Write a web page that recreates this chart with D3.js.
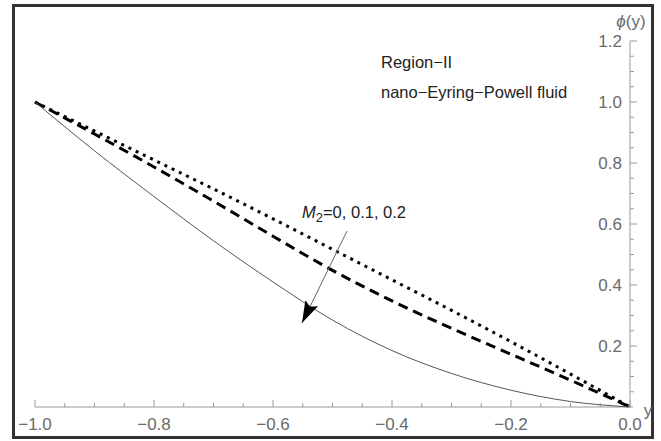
<!DOCTYPE html>
<html>
<head>
<meta charset="utf-8">
<script src="https://cdn.jsdelivr.net/npm/d3@7"></script>
<style>
  body { margin: 0; background: #fff; }
  svg { display: block; font-family: "Liberation Sans", Arial, sans-serif; }
</style>
</head>
<body>
<svg id="chart" width="661" height="441"></svg>
<script>
// y values along the channel
const yValues = [-1.0, -0.9, -0.8, -0.7, -0.6, -0.5, -0.4, -0.3, -0.2, -0.1, 0.0];
// phi(y) for M2 = 0, 0.1, 0.2
const phiM0  = [1.0, 0.905, 0.81, 0.715, 0.617, 0.517, 0.417, 0.317, 0.214, 0.108, 0.0];
const phiM01 = [1.0, 0.895, 0.787, 0.675, 0.56, 0.448, 0.348, 0.258, 0.173, 0.088, 0.0];
const phiM02 = [1.0, 0.84, 0.69, 0.545, 0.41, 0.285, 0.185, 0.11, 0.055, 0.018, 0.0];
const xTicks = [-1.0, -0.8, -0.6, -0.4, -0.2, 0.0];
const yTicks = [0.2, 0.4, 0.6, 0.8, 1.0, 1.2];
const seriesNames = ['M2=0', 'M2=0.1', 'M2=0.2'];

const svg = d3.select('#chart');

const x = d3.scaleLinear().domain([-1, 0]).range([35, 630]);
const y = d3.scaleLinear().domain([0, 1.2]).range([407, 41]);

const axisColor = '#9a9a9a';
const labelColor = '#6a6a6a';

// frame
svg.append('rect')
  .attr('x', 13.5).attr('y', 5.5)
  .attr('width', 639).attr('height', 432)
  .attr('fill', 'none')
  .attr('stroke', '#333')
  .attr('stroke-width', 3);

// x axis (ticks point up)
const xMinor = d3.range(-1, 0.0001, 0.05);
const gx = svg.append('g').attr('class', 'x-axis');
gx.append('line')
  .attr('x1', x(-1)).attr('x2', x(0) + 3)
  .attr('y1', y(0)).attr('y2', y(0))
  .attr('stroke', axisColor);
gx.selectAll('line.tick')
  .data(xMinor)
  .enter().append('line')
  .attr('class', 'tick')
  .attr('x1', d => x(d)).attr('x2', d => x(d))
  .attr('y1', y(0))
  .attr('y2', (d, i) => y(0) - (i % 4 === 0 ? 7 : 4))
  .attr('stroke', axisColor);
gx.selectAll('text')
  .data(xTicks)
  .enter().append('text')
  .attr('x', d => x(d))
  .attr('y', 430)
  .attr('text-anchor', 'middle')
  .attr('fill', labelColor)
  .style('font-size', '17px')
  .text(d => d.toFixed(1).replace('-', '\u2212'));
gx.append('text')
  .attr('x', 648).attr('y', 416)
  .attr('text-anchor', 'middle')
  .attr('fill', labelColor)
  .style('font-size', '17px')
  .text('y');

// y axis (ticks point right)
const yMinor = d3.range(0, 1.2001, 0.05);
const gy = svg.append('g').attr('class', 'y-axis');
gy.append('line')
  .attr('x1', x(0)).attr('x2', x(0))
  .attr('y1', y(0)).attr('y2', y(1.2))
  .attr('stroke', axisColor);
gy.selectAll('line.tick')
  .data(yMinor.slice(1))
  .enter().append('line')
  .attr('class', 'tick')
  .attr('x1', x(0))
  .attr('x2', (d, i) => x(0) + ((i + 1) % 4 === 0 ? 7 : 4))
  .attr('y1', d => y(d)).attr('y2', d => y(d))
  .attr('stroke', axisColor);
gy.selectAll('text')
  .data(yTicks)
  .enter().append('text')
  .attr('x', 622)
  .attr('y', d => y(d) + 6)
  .attr('text-anchor', 'end')
  .attr('fill', labelColor)
  .style('font-size', '17px')
  .text(d => d.toFixed(1));
const phiLabel = gy.append('text')
  .attr('x', 631).attr('y', 27)
  .attr('text-anchor', 'middle')
  .attr('fill', labelColor)
  .style('font-size', '17px');
phiLabel.append('tspan').style('font-style', 'italic').text('\u03D5');
phiLabel.append('tspan').text('(y)');

// curves
const line = d3.line()
  .x(d => x(d[0]))
  .y(d => y(d[1]))
  .curve(d3.curveMonotoneX);

const series = [
  { name: seriesNames[0], values: phiM0,  stroke: '#000', width: 3, dash: '3,5' },
  { name: seriesNames[1], values: phiM01, stroke: '#000', width: 3, dash: '10,6' },
  { name: seriesNames[2], values: phiM02, stroke: '#555', width: 1, dash: null }
];

svg.append('g').attr('class', 'curves')
  .selectAll('path')
  .data(series)
  .enter().append('path')
  .attr('d', s => line(yValues.map((v, i) => [v, s.values[i]])))
  .attr('fill', 'none')
  .attr('stroke', s => s.stroke)
  .attr('stroke-width', s => s.width)
  .attr('stroke-dasharray', s => s.dash);

// arrow
const defs = svg.append('defs');
defs.append('marker')
  .attr('id', 'head')
  .attr('viewBox', '0 0 22 14')
  .attr('refX', 22).attr('refY', 7)
  .attr('markerWidth', 22).attr('markerHeight', 14)
  .attr('markerUnits', 'userSpaceOnUse')
  .attr('orient', 'auto')
  .append('path')
  .attr('d', 'M0,0 L22,7 L0,14 L4,7 Z')
  .attr('fill', '#000');

svg.append('line')
  .attr('x1', 347).attr('y1', 231)
  .attr('x2', 302).attr('y2', 323)
  .attr('stroke', '#666')
  .attr('stroke-width', 1)
  .attr('marker-end', 'url(#head)');

// annotations
const m2 = svg.append('text')
  .attr('x', 302).attr('y', 218)
  .attr('fill', '#222')
  .style('font-size', '16.5px');
m2.append('tspan').style('font-style', 'italic').text('M');
m2.append('tspan').attr('dy', 4).style('font-size', '13px').text('2');
m2.append('tspan').attr('dy', -4).text('=0, 0.1, 0.2');

svg.append('text')
  .attr('x', 381).attr('y', 68)
  .attr('fill', '#222')
  .style('font-size', '16.5px')
  .text('Region\u2212II');

svg.append('text')
  .attr('x', 381).attr('y', 98)
  .attr('fill', '#222')
  .style('font-size', '16.5px')
  .text('nano\u2212Eyring\u2212Powell fluid');
</script>
</body>
</html>
